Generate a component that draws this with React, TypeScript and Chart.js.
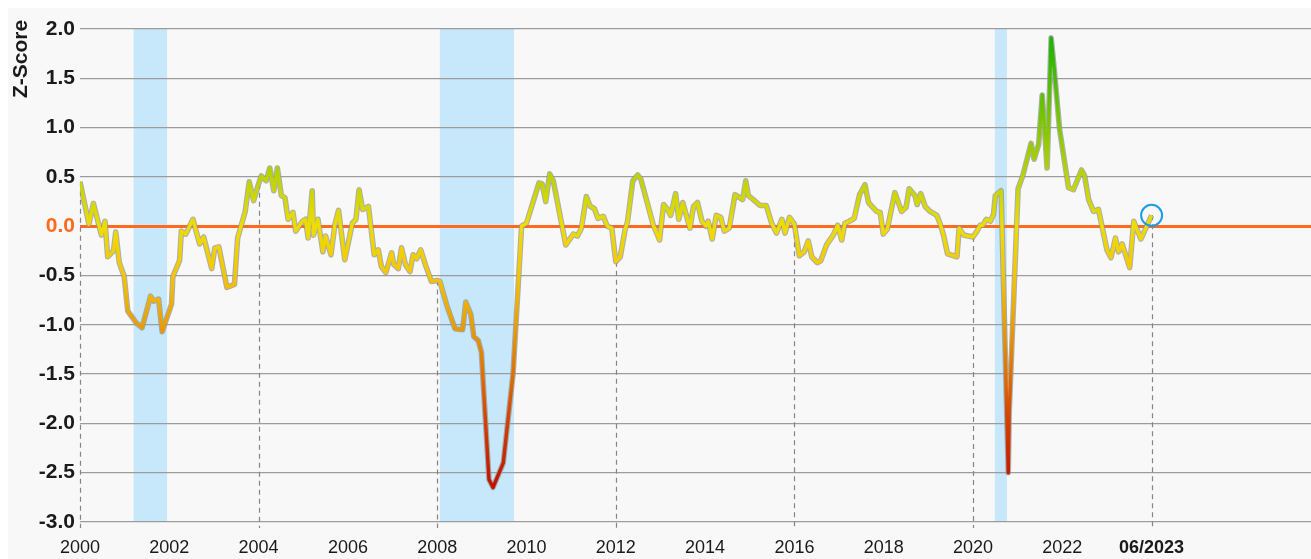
import React, { useEffect, useRef } from 'react';
import { Chart, registerables } from 'chart.js';

Chart.register(...registerables);

// Position along the time axis (in years) and Z-Score value of each point
const years = [
  2000.00, 2000.20, 2000.30, 2000.48, 2000.56, 2000.62, 2000.75, 2000.80, 2000.88, 2000.99,
  2001.07, 2001.26, 2001.39, 2001.58, 2001.65, 2001.76, 2001.84, 2002.05, 2002.08, 2002.23,
  2002.27, 2002.37, 2002.53, 2002.68, 2002.77, 2002.95, 2003.02, 2003.11, 2003.29, 2003.46,
  2003.53, 2003.70, 2003.79, 2003.89, 2004.00, 2004.06, 2004.17, 2004.25, 2004.34, 2004.42,
  2004.51, 2004.59, 2004.66, 2004.77, 2004.83, 2004.98, 2005.05, 2005.11, 2005.20, 2005.23,
  2005.33, 2005.44, 2005.50, 2005.62, 2005.71, 2005.79, 2005.93, 2006.10, 2006.18, 2006.25,
  2006.33, 2006.46, 2006.59, 2006.68, 2006.75, 2006.85, 2006.98, 2007.03, 2007.13, 2007.20,
  2007.29, 2007.39, 2007.46, 2007.54, 2007.63, 2007.75, 2007.87, 2008.00, 2008.06, 2008.22,
  2008.40, 2008.57, 2008.64, 2008.75, 2008.82, 2008.92, 2008.99, 2009.16, 2009.25, 2009.48,
  2009.70, 2009.89, 2010.00, 2010.28, 2010.35, 2010.43, 2010.52, 2010.60, 2010.88, 2011.05,
  2011.14, 2011.23, 2011.34, 2011.43, 2011.52, 2011.60, 2011.72, 2011.81, 2011.91, 2012.00,
  2012.10, 2012.21, 2012.26, 2012.38, 2012.49, 2012.56, 2012.84, 2012.98, 2013.07, 2013.16,
  2013.23, 2013.34, 2013.41, 2013.50, 2013.66, 2013.74, 2013.83, 2013.93, 2014.02, 2014.07,
  2014.16, 2014.25, 2014.35, 2014.43, 2014.54, 2014.67, 2014.84, 2014.91, 2014.97, 2015.08,
  2015.23, 2015.37, 2015.49, 2015.60, 2015.72, 2015.79, 2015.89, 2016.00, 2016.11, 2016.22,
  2016.31, 2016.39, 2016.51, 2016.59, 2016.72, 2016.87, 2016.97, 2017.06, 2017.13, 2017.23,
  2017.34, 2017.46, 2017.58, 2017.66, 2017.84, 2017.92, 2017.99, 2018.08, 2018.25, 2018.40,
  2018.50, 2018.57, 2018.70, 2018.75, 2018.83, 2018.93, 2019.04, 2019.19, 2019.26, 2019.34,
  2019.43, 2019.64, 2019.69, 2019.79, 2020.00, 2020.09, 2020.16, 2020.22, 2020.30, 2020.39,
  2020.46, 2020.50, 2020.63, 2020.79, 2020.81, 2021.01, 2021.12, 2021.30, 2021.37, 2021.47,
  2021.55, 2021.60, 2021.66, 2021.75, 2021.82, 2021.94, 2022.14, 2022.25, 2022.43, 2022.50,
  2022.59, 2022.70, 2022.81, 2023.00, 2023.09, 2023.19, 2023.26, 2023.34, 2023.51, 2023.60,
  2023.76, 2024.00,
];

const zScores = [
  0.45, 0.02, 0.23, -0.09, 0.05, -0.31, -0.25, -0.06, -0.37, -0.51,
  -0.86, -0.98, -1.03, -0.71, -0.76, -0.74, -1.07, -0.79, -0.51, -0.35,
  -0.05, -0.08, 0.07, -0.18, -0.11, -0.43, -0.22, -0.21, -0.62, -0.59,
  -0.12, 0.15, 0.45, 0.26, 0.43, 0.51, 0.46, 0.59, 0.36, 0.59,
  0.31, 0.29, 0.07, 0.14, -0.05, 0.05, 0.07, -0.12, 0.36, -0.09,
  0.07, -0.26, -0.10, -0.29, 0.02, 0.16, -0.34, 0.03, 0.07, 0.37,
  0.17, 0.20, -0.29, -0.24, -0.41, -0.47, -0.27, -0.39, -0.43, -0.22,
  -0.39, -0.46, -0.29, -0.33, -0.24, -0.41, -0.56, -0.55, -0.56, -0.81,
  -1.04, -1.05, -0.77, -0.89, -1.12, -1.16, -1.28, -2.57, -2.65, -2.40,
  -1.49, 0.00, 0.03, 0.44, 0.43, 0.25, 0.53, 0.46, -0.19, -0.08,
  -0.10, -0.02, 0.30, 0.20, 0.18, 0.08, 0.10, 0.00, -0.02, -0.36,
  -0.31, -0.03, 0.04, 0.46, 0.52, 0.48, 0.01, -0.14, 0.22, 0.17,
  0.11, 0.33, 0.07, 0.24, -0.02, 0.20, 0.24, 0.05, 0.00, 0.05,
  -0.13, 0.11, 0.09, -0.05, -0.02, 0.32, 0.27, 0.46, 0.31, 0.27,
  0.21, 0.21, 0.03, -0.07, 0.07, -0.07, 0.09, 0.02, -0.30, -0.26,
  -0.15, -0.31, -0.37, -0.35, -0.19, -0.09, 0.01, -0.14, 0.03, 0.05,
  0.08, 0.32, 0.42, 0.24, 0.15, 0.14, -0.08, -0.03, 0.34, 0.15,
  0.19, 0.38, 0.31, 0.22, 0.33, 0.20, 0.15, 0.11, 0.03, -0.09,
  -0.28, -0.31, -0.02, -0.09, -0.11, -0.05, 0.01, 0.01, 0.07, 0.05,
  0.12, 0.31, 0.36, -2.50, -1.90, 0.38, 0.52, 0.84, 0.68, 0.83,
  1.33, 1.00, 0.59, 1.91, 1.59, 0.98, 0.39, 0.37, 0.57, 0.51,
  0.27, 0.15, 0.17, -0.24, -0.32, -0.12, -0.26, -0.18, -0.42, 0.05,
  -0.13, 0.11,
];

const yTickValues = [2.0, 1.5, 1.0, 0.5, 0.0, -0.5, -1.0, -1.5, -2.0, -2.5, -3.0];
const xTickYears = [2000, 2002, 2004, 2006, 2008, 2010, 2012, 2014, 2016, 2018, 2020, 2022, 2024];
const xTickLabels = ['2000', '2002', '2004', '2006', '2008', '2010', '2012', '2014', '2016', '2018', '2020', '2022', '06/2023'];
const dropLineYears = [2000, 2004, 2008, 2012, 2016, 2020, 2024];
const recessionStarts = [2001.2, 2008.06, 2020.49];
const recessionEnds = [2001.95, 2009.72, 2020.76];
const lastLabel = '06/2023';
const yAxisTitle = 'Z-Score';

// value -> colour stops for the line gradient
const gradientValues = [1.9, 1.0, 0.5, 0.0, -0.5, -1.0, -1.5, -2.0, -2.65];
const gradientColors = ['#1ab400', '#82c800', '#bcd400', '#eedd00', '#f5c600', '#ea9e00', '#e07000', '#d04000', '#c01200'];

const Y_MIN = -3;
const Y_MAX = 2;
const X_MIN = 2000;
const X_MAX = 2027.57;

function valueAt(yr: number): number {
  for (let i = 0; i < years.length - 1; i++) {
    if (yr >= years[i] && yr <= years[i + 1]) {
      const t = (yr - years[i]) / (years[i + 1] - years[i] || 1);
      return zScores[i] + t * (zScores[i + 1] - zScores[i]);
    }
  }
  return zScores[zScores.length - 1];
}

const overlayPlugin = {
  id: 'overlay',
  beforeDraw(chart: any) {
    const { ctx, chartArea, scales } = chart;
    const x = scales.x;
    ctx.save();
    ctx.fillStyle = '#c7e7fb';
    for (let i = 0; i < recessionStarts.length; i++) {
      const x0 = x.getPixelForValue(recessionStarts[i]);
      const x1 = x.getPixelForValue(recessionEnds[i]);
      ctx.fillRect(x0, chartArea.top, x1 - x0, chartArea.bottom - chartArea.top);
    }
    ctx.restore();
  },
  beforeDatasetsDraw(chart: any) {
    const { ctx, chartArea, scales } = chart;
    ctx.save();
    ctx.strokeStyle = '#858585';
    ctx.lineWidth = 1.2;
    ctx.setLineDash([5, 4]);
    for (const yr of dropLineYears) {
      const px = Math.round(scales.x.getPixelForValue(yr)) + 0.5;
      const py = scales.y.getPixelForValue(valueAt(yr));
      ctx.beginPath();
      ctx.moveTo(px, py);
      ctx.lineTo(px, chartArea.bottom + 6);
      ctx.stroke();
    }
    ctx.restore();
  },
  afterDatasetsDraw(chart: any) {
    const { ctx, scales, chartArea } = chart;
    const lastYear = years[years.length - 1];
    const px = scales.x.getPixelForValue(lastYear);
    const py = scales.y.getPixelForValue(zScores[zScores.length - 1]);
    ctx.save();
    ctx.strokeStyle = '#1c9be6';
    ctx.lineWidth = 2;
    ctx.beginPath();
    ctx.arc(px, py, 10.5, 0, Math.PI * 2);
    ctx.stroke();
    ctx.restore();

    // y-axis title
    ctx.save();
    ctx.translate(13, chartArea.top + 30);
    ctx.rotate(-Math.PI / 2);
    ctx.fillStyle = '#1a1a1a';
    ctx.font = "bold 21px 'Liberation Sans', Arial, sans-serif";
    ctx.textAlign = 'center';
    ctx.textBaseline = 'middle';
    ctx.fillText(yAxisTitle, 0, 0);
    ctx.restore();
  },
};

export default function App() {
  const canvasRef = useRef<HTMLCanvasElement | null>(null);

  useEffect(() => {
    document.documentElement.style.overflow = 'hidden';
    document.body.style.overflow = 'hidden';
    const canvas = canvasRef.current;
    if (!canvas) return;

    const points = years.map((yr, i) => ({ x: yr, y: zScores[i] }));

    const lineGradient = (context: any) => {
      const chart = context.chart;
      const { chartArea, scales } = chart;
      if (!chartArea) return '#eedd00';
      const top = scales.y.getPixelForValue(Y_MAX);
      const bottom = scales.y.getPixelForValue(Y_MIN);
      const g = chart.ctx.createLinearGradient(0, top, 0, bottom);
      gradientValues.forEach((v, i) => {
        g.addColorStop((Y_MAX - v) / (Y_MAX - Y_MIN), gradientColors[i]);
      });
      return g;
    };

    const chart = new Chart(canvas, {
      type: 'line',
      data: {
        datasets: [
          {
            label: 'Z-Score',
            data: points,
            borderColor: lineGradient,
            borderWidth: 3.4,
            pointRadius: 0,
            tension: 0,
            fill: false,
            order: 0,
            borderJoinStyle: 'round',
          },
          {
            label: 'outline',
            data: points,
            borderColor: 'rgba(150,150,150,0.75)',
            borderWidth: 5.6,
            pointRadius: 0,
            tension: 0,
            fill: false,
            order: 1,
            borderJoinStyle: 'round',
          },
        ],
      },
      options: {
        animation: false,
        responsive: true,
        maintainAspectRatio: false,
        layout: { padding: { top: 21, right: 0, left: 0, bottom: 0 } },
        plugins: {
          legend: { display: false },
          tooltip: { enabled: false },
        },
        scales: {
          x: {
            type: 'linear',
            min: X_MIN,
            max: X_MAX,
            grid: { display: false },
            border: { display: false },
            afterBuildTicks: (scale: any) => {
              scale.ticks = xTickYears.map((v) => ({ value: v }));
            },
            afterFit: (scale: any) => {
              scale.height = 37;
            },
            ticks: {
              autoSkip: false,
              maxRotation: 0,
              padding: 7,
              color: '#1a1a1a',
              font: (ctx: any) => {
                const v = ctx.tick ? ctx.tick.value : 0;
                return {
                  family: "'Liberation Sans', Arial, sans-serif",
                  size: 18,
                  weight: xTickLabels[xTickYears.indexOf(v)] === lastLabel ? 'bold' : 'normal',
                };
              },
              callback: (v: any) => {
                const i = xTickYears.indexOf(Number(v));
                return i >= 0 ? xTickLabels[i] : '';
              },
            },
          },
          y: {
            type: 'linear',
            min: Y_MIN,
            max: Y_MAX,
            afterBuildTicks: (scale: any) => {
              scale.ticks = yTickValues.map((v) => ({ value: v }));
            },
            afterFit: (scale: any) => {
              scale.width = 72;
            },
            border: { display: false },
            grid: {
              drawTicks: false,
              color: (ctx: any) => (ctx.tick && ctx.tick.value === 0 ? '#ff6a1e' : '#9c9c9c'),
              lineWidth: (ctx: any) => (ctx.tick && ctx.tick.value === 0 ? 3 : 1.3),
            },
            ticks: {
              padding: 5,
              color: (ctx: any) => (ctx.tick && ctx.tick.value === 0 ? '#ff6a1e' : '#1a1a1a'),
              font: { family: "'Liberation Sans', Arial, sans-serif", size: 21, weight: 'bold' },
              callback: (v: any) => Number(v).toFixed(1),
            },
            title: { display: false },
          },
        },
      },
      plugins: [overlayPlugin],
    });

    return () => {
      chart.destroy();
    };
  }, []);

  return (
    <div style={{ position: 'fixed', left: 8, top: 8, width: 1303, height: 551, background: '#f8f8f8' }}>
      <canvas ref={canvasRef} style={{ display: 'block' }} />
    </div>
  );
}
